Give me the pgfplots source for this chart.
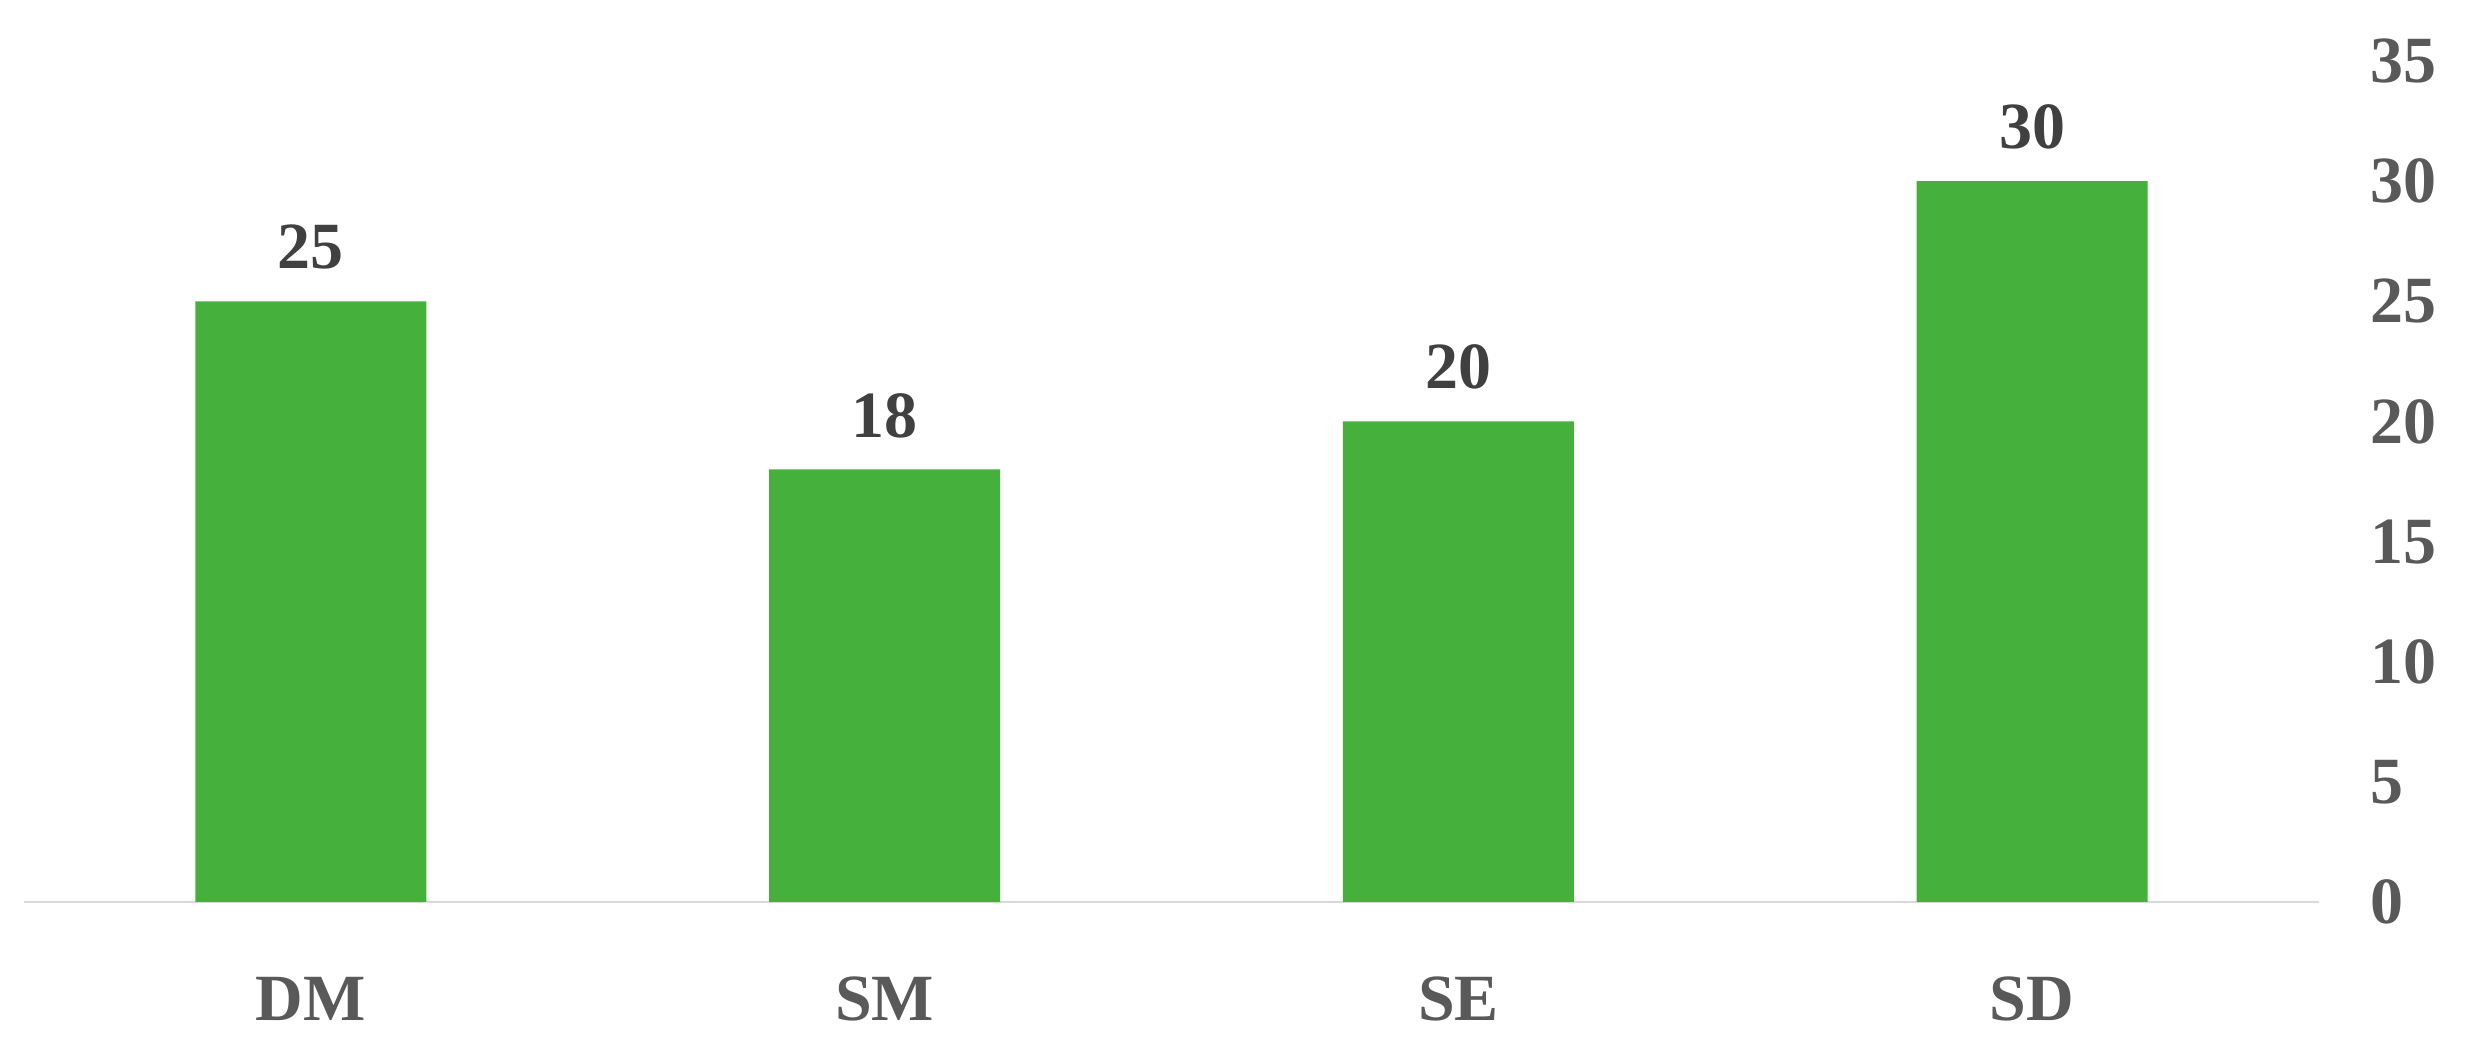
\documentclass[border=0pt]{standalone}
\usepackage{fontspec}
\setmainfont{Liberation Serif}
\usepackage{pgfplots}
\pgfplotsset{compat=1.18}
\definecolor{bargreen}{RGB}{69,176,60}
\definecolor{ticktext}{RGB}{89,89,89}
\definecolor{valtext}{RGB}{64,64,64}
\begin{document}
\begin{tikzpicture}
\begin{axis}[
  name=ax,
  scale only axis,
  width=573.75pt, height=210.25pt,
  xmin=-0.5, xmax=3.5, ymin=0, ymax=35,
  axis x line*=bottom, axis y line*=right,
  x axis line style={-, draw={rgb,255:red,217;green,217;blue,217}, line width=0.7pt},
  y axis line style={draw=none},
  major tick length=0pt,
  xtick={0,1,2,3}, xticklabels={DM,SM,SE,SD},
  ytick={0,5,...,35},
  /pgf/number format/assume math mode=true,
  font=\fontsize{16.5}{19}\selectfont\bfseries,
  xticklabel style={anchor=base, inner sep=0pt, yshift=-29.75pt, text=ticktext, font=\fontsize{16.5}{19}\selectfont\bfseries},
  yticklabel style={anchor=west, inner sep=0pt, xshift=12.75pt, text=ticktext, font=\fontsize{16.5}{19}\selectfont\bfseries},
  ybar, bar width=57.75pt,
  nodes near coords,
  nodes near coords style={anchor=south, inner sep=0pt, yshift=7.75pt, text=valtext, font=\fontsize{16.5}{19}\selectfont\bfseries},
  clip=false,
]
\addplot[fill=bargreen, draw=none] coordinates {(0,25) (1,18) (2,20) (3,30)};
\end{axis}
\path ([xshift=-6pt,yshift=-36pt]ax.south west) rectangle ([xshift=40.75pt,yshift=15.25pt]ax.north east);
\end{tikzpicture}
\end{document}
